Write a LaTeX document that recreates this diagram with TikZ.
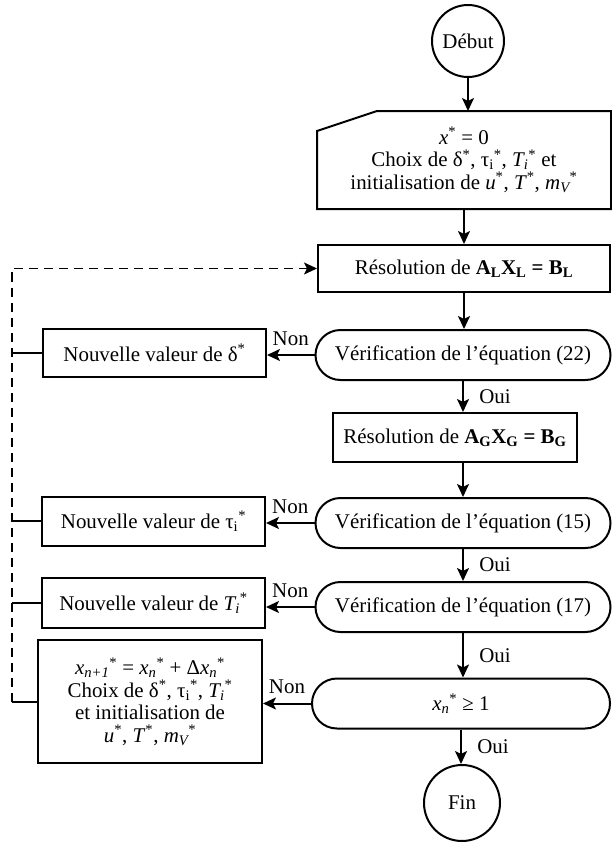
\documentclass[tikz,border=0pt]{standalone}
\usepackage{fontspec}
\setmainfont{Liberation Serif}
\usepackage{tikz}
\usetikzlibrary{arrows.meta,shapes.misc}

\newcommand{\etoile}{\textsuperscript{*}}

\begin{document}
\begin{tikzpicture}[x=1bp,y=-1bp,line width=2bp,
  font=\fontsize{21}{22.5}\selectfont,
  borne/.style={shape=circle,draw=black,inner sep=0pt,minimum size=72bp},
  boite/.style={shape=rectangle,draw=black,inner sep=0pt,align=center},
  test/.style={shape=rounded rectangle,draw=black,inner sep=0pt,minimum width=295bp,minimum height=50bp},
  fleche/.style={-{Stealth[length=13bp,width=12bp,inset=3bp]}},
  retour/.style={line width=1.6bp,dash pattern=on 9bp off 6bp}]
\useasboundingbox (0,0) rectangle (612,842);
\node[borne] (debut) at (468,41) {Début};
\node[boite,draw=none,minimum width=292bp,minimum height=96bp] (init) at (464,160) {\textit{x}\etoile{} = 0\\Choix de δ\etoile, τ\textsubscript{i}\etoile, \textit{T\textsubscript{i}}\etoile{} et\\initialisation de \textit{u}\etoile, \textit{T}\etoile, \textit{m\textsubscript{V}}\etoile};
\draw (init.south west) -- ([yshift=-20bp]init.north west) -- ([xshift=60bp]init.north west) -- (init.north east) -- (init.south east) -- cycle;
\node[boite,minimum width=292bp,minimum height=47bp] (resL) at (464,268.5) {Résolution de \textbf{A\textsubscript{L}X\textsubscript{L} = B\textsubscript{L}}};
\node[test] (v22) at (463,355) {Vérification de l'équation (22)};
\node[boite,minimum width=223bp,minimum height=48bp] (nd) at (154.5,353) {Nouvelle valeur de δ\etoile};
\node[boite,minimum width=244bp,minimum height=49bp] (resG) at (455,437.5) {Résolution de \textbf{A\textsubscript{G}X\textsubscript{G} = B\textsubscript{G}}};
\node[test] (v15) at (463,523) {Vérification de l'équation (15)};
\node[boite,minimum width=223bp,minimum height=49bp] (ntau) at (153.5,521) {Nouvelle valeur de τ\textsubscript{i}\etoile};
\node[test] (v17) at (463,607) {Vérification de l'équation (17)};
\node[boite,minimum width=223bp,minimum height=50bp] (nT) at (153.5,603) {Nouvelle valeur de \textit{T\textsubscript{i}}\etoile};
\node[test,minimum width=298bp] (vx) at (461,703.5) {\textit{x\textsubscript{n}}\etoile{} ≥ 1};
\node[boite,minimum width=224bp,minimum height=123bp] (nlast) at (150,701.5) {\textit{x\textsubscript{n+1}}\etoile{} = \textit{x\textsubscript{n}}\etoile{} + Δ\textit{x\textsubscript{n}}\etoile\\Choix de δ\etoile, τ\textsubscript{i}\etoile, \textit{T\textsubscript{i}}\etoile\\et initialisation de\\\textit{u}\etoile, \textit{T}\etoile, \textit{m\textsubscript{V}}\etoile};
\node[borne,minimum size=76bp] (fin) at (462,803) {Fin};
\coordinate (gauche) at (12,0);
\path [fleche] (debut) edge (debut |- init.north);
\path [fleche] (init.south) edge (init.south |- resL.north);
\path [fleche] (resL.south) edge (resL.south |- v22.north);
\path [fleche] (v22.south) edge node[right=12bp] {Oui} (v22.south |- resG.north);
\path [fleche] (v22.south |- resG.south) edge (v15.north);
\path [fleche] (v15.south) edge node[right=12bp] {Oui} (v17.north);
\path [fleche] (v17.south) edge node[right=12bp] {Oui} (v17.south |- vx.north);
\path [fleche] (vx.south) edge node[right=12bp] {Oui} (vx.south |- fin.north);
\path [fleche] (v22.west) edge node[above=5bp] {Non} (v22.west -| nd.east);
\path [fleche] (v15.west) edge node[above=5bp] {Non} (v15.west -| ntau.east);
\path [fleche] (v17.west) edge node[above=5bp] {Non} (v17.west -| nT.east);
\path [fleche] (vx.west) edge node[above=5bp] {Non} (vx.west -| nlast.east);
\draw (nd.west) -- (gauche |- nd.west);
\draw (ntau.west) -- (gauche |- ntau.west);
\draw (nT.west) -- (gauche |- nT.west);
\draw (nlast.west) -- (gauche |- nlast.west);
\draw [retour,fleche] (gauche |- nlast.west) |- (resL.west);
\end{tikzpicture}
\end{document}
